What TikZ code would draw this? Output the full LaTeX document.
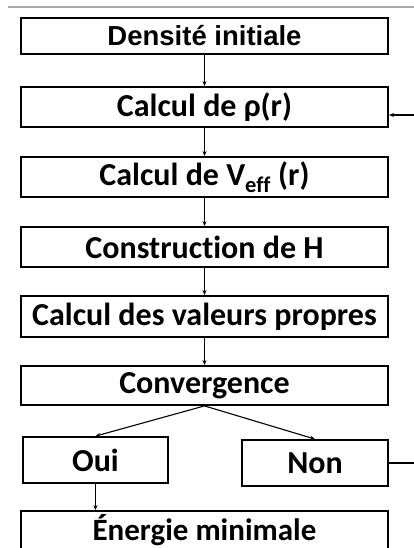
\documentclass[tikz,border=0pt]{standalone}
\usepackage{fontspec}
\setmainfont{Carlito}[RawFeature=-liga]
\newfontfamily\arialfont{Liberation Sans}
\usetikzlibrary{arrows.meta}
\begin{document}
\begin{tikzpicture}[x=1pt,y=-1pt,
  box/.style={draw=black,line width=1.8pt,fill=white,inner sep=0pt,
    font=\fontsize{32}{36}\selectfont\bfseries},
  arr/.style={line width=1.1pt,-{Stealth[length=5pt,width=4pt]}},
  lnk/.style={line width=1.1pt}]
\useasboundingbox (0,0) rectangle (414,548);
\clip (0,0) rectangle (414,548);
\draw[gray!70,line width=1.5pt] (8,7) -- (414,7);
\node[box,minimum width=367pt,minimum height=36pt,font=\arialfont\fontsize{27.5}{30}\selectfont\bfseries] (dens) at (204.5,36) {Densité initiale};
\node[box,minimum width=367pt,minimum height=40pt] (rho) at (204.5,107) {Calcul de ρ(r)};
\node[box,minimum width=367pt,minimum height=40pt] (veff) at (204.5,177) {Calcul de V\textsubscript{eff} (r)};
\node[box,minimum width=367pt,minimum height=40pt] (ham) at (204.5,247) {Construction de H};
\node[box,minimum width=367pt,minimum height=41pt] (vp) at (204.5,316.5) {Calcul des valeurs propres};
\node[box,minimum width=367pt,minimum height=39pt] (conv) at (204.5,385.5) {Convergence};
\node[box,minimum width=145pt,minimum height=46pt] (oui) at (95.5,460) {Oui};
\node[box,minimum width=146pt,minimum height=46pt] (non) at (315,463) {Non};
\node[box,minimum width=367pt,minimum height=38pt,font=\fontsize{31}{34}\selectfont\bfseries] (ener) at (204.5,530) {Énergie minimale};
\coordinate (fb) at (440,115);
\draw[arr] (dens) -- (rho);
\draw[arr] (rho) -- (veff);
\draw[arr] (veff) -- (ham);
\draw[arr] (ham) -- (vp);
\draw[arr] (vp) -- (conv);
\draw[arr] (conv.south) -- (oui.north);
\draw[arr] (conv.south) -- (non.north);
\draw[arr] (oui.south) -- (oui.south |- ener.north);
\draw[lnk] (non.east) -- (non.east -| fb) -- (fb);
\draw[arr] (fb) -- (rho.east |- fb);
\end{tikzpicture}
\end{document}
